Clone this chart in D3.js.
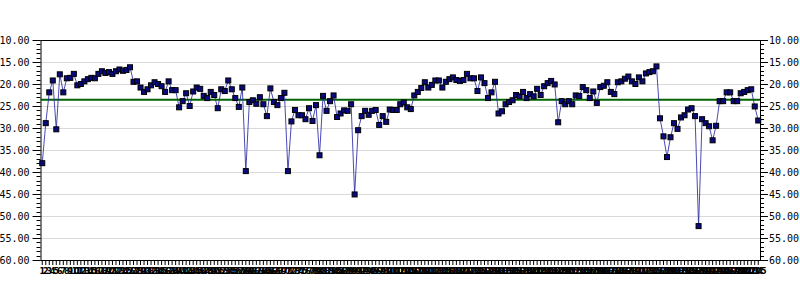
<!DOCTYPE html>
<html>
<head>
<meta charset="utf-8">
<script src="https://cdn.jsdelivr.net/npm/d3@7"></script>
<style>
  body { margin: 0; background: #fff; }
  .y text { font-family: "DejaVu Sans Mono", monospace; font-size: 10px; fill: #000; }
  .x text { font-family: "DejaVu Sans", sans-serif; font-size: 8px; font-weight: bold; fill: #000; }
  .domain, .tick line { stroke: #000; }
</style>
</head>
<body>
<div class="chart"></div>
<script>
var values = [
  38.0, 28.9, 21.9, 19.2, 30.3, 17.8, 21.9, 18.7, 18.6, 17.7,
  20.3, 20.0, 19.4, 18.9, 18.6, 18.7, 17.7, 17.1, 17.5, 17.3,
  17.7, 17.1, 16.7, 17.0, 16.8, 16.2, 19.5, 19.4, 20.8, 21.8,
  21.2, 20.3, 19.6, 20.0, 20.5, 21.8, 19.4, 21.4, 21.4, 25.3,
  23.9, 22.1, 25.0, 21.7, 20.8, 21.1, 22.7, 23.2, 21.8, 22.5,
  25.5, 21.2, 21.6, 19.2, 21.2, 23.2, 25.2, 20.8, 39.8, 24.1,
  23.7, 24.5, 23.0, 24.6, 27.3, 21.0, 24.1, 24.8, 23.2, 22.0,
  39.8, 28.5, 25.9, 27.1, 27.1, 28.0, 25.5, 28.4, 24.8, 36.2,
  22.7, 26.1, 23.9, 22.6, 27.5, 26.7, 26.0, 26.1, 24.6, 45.1,
  30.5, 27.3, 26.1, 27.0, 26.1, 25.9, 29.3, 27.3, 28.6, 25.8,
  25.9, 25.9, 24.6, 24.2, 25.3, 25.7, 22.6, 21.8, 20.9, 19.6,
  20.8, 20.2, 19.2, 19.2, 20.8, 19.5, 18.9, 18.5, 19.1, 19.3,
  19.1, 17.7, 18.7, 18.7, 21.6, 18.5, 19.8, 23.2, 21.9, 19.5,
  26.7, 26.2, 24.6, 24.1, 23.7, 22.5, 22.8, 21.8, 23.2, 22.3,
  22.8, 21.1, 22.5, 20.5, 19.8, 19.3, 20.1, 28.7, 23.9, 24.6,
  23.9, 24.6, 22.6, 22.7, 20.7, 21.4, 23.2, 21.7, 24.3, 20.7,
  20.4, 19.6, 21.8, 22.3, 19.6, 19.4, 18.8, 18.3, 19.4, 20.0,
  18.5, 19.4, 17.6, 17.3, 17.1, 16.0, 27.8, 31.9, 36.6, 32.1,
  28.9, 30.2, 27.6, 27.1, 25.8, 25.5, 27.3, 52.3, 28.0, 28.9,
  29.6, 32.8, 29.5, 23.9, 23.9, 21.9, 21.9, 23.9, 23.9, 22.1,
  21.8, 21.4, 21.2, 25.1, 28.3
];
var labels = values.map(function (d, i) { return String(i + 1); });
var yTicks = [10, 15, 20, 25, 30, 35, 40, 45, 50, 55, 60];
var average = 23.6;

var margin = {top: 40, right: 40, bottom: 40, left: 40.5},
    width = 800 - margin.left - margin.right,
    height = 300 - margin.top - margin.bottom;

var x = d3.scaleBand()
  .domain(labels)
  .range([0, width]);

var y = d3.scaleLinear()
  .domain([10, 60])
  .range([0, height]);

var svg = d3.select(".chart").append("svg")
    .attr("width", 800)
    .attr("height", 300)
  .append("g")
    .attr("transform", "translate(" + margin.left + "," + margin.top + ")");

// grid
svg.append("g")
  .selectAll("line")
  .data(yTicks.slice(1, -1))
  .enter().append("line")
    .attr("x1", 0)
    .attr("x2", width)
    .attr("y1", function (d) { return Math.round(y(d)) + 0.5; })
    .attr("y2", function (d) { return Math.round(y(d)) + 0.5; })
    .style("stroke", "#d9d9d9");

svg.append("line")
  .attr("x1", 0).attr("x2", width)
  .attr("y1", 0.5).attr("y2", 0.5)
  .style("stroke", "#000");

// minor ticks
var minor = d3.range(10, 61, 1);
[0, width].forEach(function (px, k) {
  svg.append("g")
    .selectAll("line")
    .data(minor)
    .enter().append("line")
      .attr("x1", px)
      .attr("x2", k ? px + 4 : px - 4)
      .attr("y1", function (d) { return Math.round(y(d)) + 0.5; })
      .attr("y2", function (d) { return Math.round(y(d)) + 0.5; })
      .style("stroke", "#000");
});

var fmt = d3.format(".2f");

svg.append("g")
  .attr("class", "y axis")
  .call(d3.axisLeft(y).tickValues(yTicks).tickFormat(fmt).tickSize(8).tickSizeOuter(0).tickPadding(3));

svg.append("g")
  .attr("class", "y axis")
  .attr("transform", "translate(" + width + ",0)")
  .call(d3.axisRight(y).tickValues(yTicks).tickFormat(fmt).tickSize(8).tickSizeOuter(0).tickPadding(1));

svg.append("g")
  .attr("class", "x axis")
  .attr("transform", "translate(0," + height + ")")
  .call(d3.axisBottom(x).tickSize(5).tickSizeOuter(0).tickPadding(3));

// average line
svg.append("line")
  .attr("x1", 0)
  .attr("x2", width)
  .attr("y1", y(average))
  .attr("y2", y(average))
  .style("stroke", "#006400")
  .style("stroke-width", 2);

var line = d3.line()
  .x(function (d, i) { return x(labels[i]) + x.bandwidth() / 2; })
  .y(function (d) { return y(d); });

svg.append("path")
  .datum(values)
  .attr("d", line)
  .style("fill", "none")
  .style("stroke", "#2a2aa8")
  .style("stroke-opacity", 0.85)
  .style("stroke-width", 1);

svg.append("g")
  .selectAll("rect")
  .data(values)
  .enter().append("rect")
    .attr("x", function (d, i) { return x(labels[i]) + x.bandwidth() / 2 - 2.5; })
    .attr("y", function (d) { return y(d) - 2.5; })
    .attr("width", 5)
    .attr("height", 5)
    .style("fill", "#0a0a80")
    .style("stroke", "#000")
    .style("stroke-width", 1);
</script>
</body>
</html>
